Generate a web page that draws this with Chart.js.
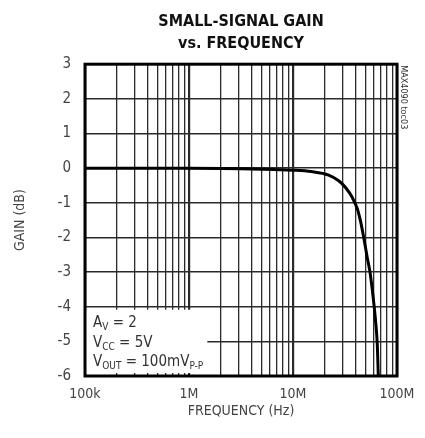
<!DOCTYPE html>
<html><head><meta charset="utf-8">
<script src="https://cdn.jsdelivr.net/npm/chart.js@4/dist/chart.umd.min.js"></script>
<style>html,body{margin:0;padding:0;background:#fff}#wrap{width:425px;height:438px}</style>
</head><body><div id="wrap"><canvas id="c" width="425" height="438"></canvas></div>
<script>
// ---- data ----
const freqHz = [1e5, 1e6, 5e6, 1e7, 1.5e7, 2.2e7, 2.77e7, 3.2e7, 3.72e7, 4.16e7, 4.48e7, 4.82e7, 5.19e7, 5.5e7, 5.92e7, 6.24e7, 6.47e7, 6.61e7];
const gainDb = [0, 0, -0.03, -0.06, -0.1, -0.2, -0.37, -0.56, -0.85, -1.18, -1.56, -2.05, -2.6, -3.0, -3.77, -4.45, -5.12, -6];
const decades = [1e5, 1e6, 1e7];
const multipliers = [1, 2, 3, 4, 5, 6, 7, 8, 9];
const xTickLabels = {100000: '100k', 1000000: '1M', 10000000: '10M', 100000000: '100M'};
const yTicks = [-6, -5, -4, -3, -2, -1, 0, 1, 2, 3];
const titleLines = ['SMALL-SIGNAL GAIN', 'vs. FREQUENCY'];
const condensed = "'Liberation Sans Narrow', 'DejaVu Sans Condensed', 'Roboto Condensed', sans-serif";

const xGridValues = [];
decades.forEach(d => multipliers.forEach(m => xGridValues.push(m * d)));
xGridValues.push(1e8);
const isDecade = v => Math.abs(Math.log10(v) - Math.round(Math.log10(v))) < 1e-9;

const boxPlugin = {
  id: 'boxPlugin',
  beforeDatasetsDraw(chart) {
    const {ctx, scales: {x, y}} = chart;
    const l = x.getPixelForValue(1e5), r = x.getPixelForValue(1.5e6);
    const t = y.getPixelForValue(-4) + 3, b = y.getPixelForValue(-6) - 3;
    ctx.save();
    ctx.fillStyle = '#fff';
    ctx.fillRect(l + 1, t, r - l - 1, b - t);
    ctx.fillStyle = '#333';
    ctx.textBaseline = 'alphabetic';
    const x0 = l + 8;
    const big = "15px " + condensed, small = "10px " + condensed;
    function seq(parts, baseY) {
      let cx = x0;
      parts.forEach(([txt, sub]) => {
        ctx.font = sub ? small : big;
        ctx.fillText(txt, cx, baseY + (sub ? 3 : 0));
        cx += ctx.measureText(txt).width;
      });
    }
    seq([['A', 0], ['V', 1], [' = 2', 0]], y.getPixelForValue(-4.58));
    seq([['V', 0], ['CC', 1], [' = 5V', 0]], y.getPixelForValue(-5.17));
    seq([['V', 0], ['OUT', 1], [' = 100mV', 0], ['P-P', 1]], y.getPixelForValue(-5.7));
    ctx.restore();
  },
  afterDraw(chart) {
    const {ctx, chartArea: a} = chart;
    ctx.save();
    ctx.strokeStyle = '#000';
    ctx.lineWidth = 3;
    ctx.strokeRect(a.left, a.top, a.right - a.left, a.bottom - a.top);
    ctx.translate(a.right + 6, a.top + 1);
    ctx.rotate(Math.PI / 2);
    ctx.font = "9px " + condensed;
    ctx.fillStyle = '#333';
    ctx.textBaseline = 'middle';
    ctx.fillText('MAX4090 toc03', 0, 0);
    ctx.restore();
  }
};

new Chart(document.getElementById('c'), {
  type: 'line',
  data: {
    datasets: [{
      data: freqHz.map((f, i) => ({x: f, y: gainDb[i]})),
      borderColor: '#000', borderWidth: 3, pointRadius: 0,
      cubicInterpolationMode: 'monotone', fill: false
    }]
  },
  options: {
    responsive: false, animation: false, devicePixelRatio: 1,
    layout: {padding: {left: 12, right: 28, top: 0, bottom: 18}},
    plugins: {
      legend: {display: false}, tooltip: {enabled: false},
      title: {
        display: true, fullSize: false, text: titleLines, color: '#111',
        font: {family: condensed, size: 16, weight: 'bold', lineHeight: 1.35},
        padding: {top: 11, bottom: 10}
      }
    },
    scales: {
      x: {
        type: 'logarithmic', min: 1e5, max: 1e8,
        afterBuildTicks: s => { s.ticks = xGridValues.map(v => ({value: v})); },
        afterFit: s => { s.height = 44; },
        ticks: {
          autoSkip: false, maxRotation: 0, padding: 10, color: '#444',
          font: {family: condensed, size: 14},
          callback: v => xTickLabels[Math.round(v)] || ''
        },
        grid: {
          drawTicks: false, color: '#2a2a2a',
          lineWidth: c => (c.tick && isDecade(c.tick.value)) ? 2.2 : 1.3
        },
        border: {display: false},
        title: {display: true, text: 'FREQUENCY (Hz)', color: '#444',
          font: {family: condensed, size: 14}, padding: {top: 4, bottom: 0}}
      },
      y: {
        min: -6, max: 3,
        afterBuildTicks: s => { s.ticks = yTicks.map(v => ({value: v})); },
        afterFit: s => { s.width = 73; },
        ticks: {padding: 14, color: '#444', font: {family: condensed, size: 15}},
        grid: {drawTicks: false, color: '#2a2a2a', lineWidth: 1.6},
        border: {display: false},
        title: {display: true, text: 'GAIN (dB)', color: '#444',
          font: {family: condensed, size: 14}, padding: {top: 0, bottom: 0}}
      }
    }
  },
  plugins: [boxPlugin]
});
</script></body></html>
